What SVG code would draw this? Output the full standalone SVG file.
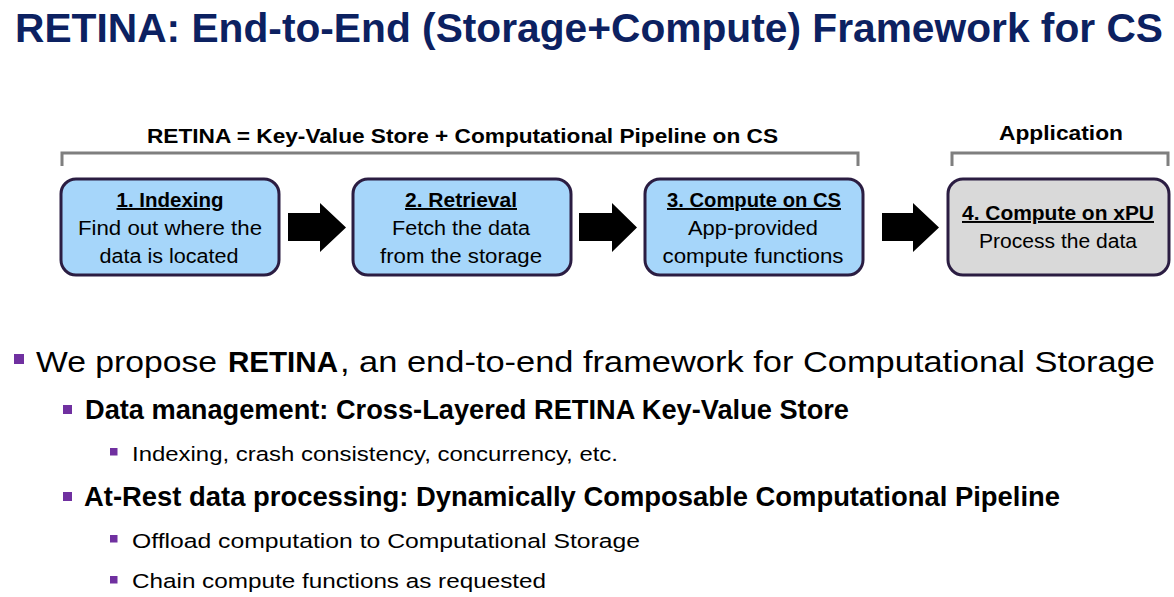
<svg xmlns="http://www.w3.org/2000/svg" width="1174" height="597" viewBox="0 0 1174 597">
  <defs>
    <style>
      text { font-family: "Liberation Sans", Arial, sans-serif; fill: #000; }
      .title { font-size: 40px; font-weight: bold; fill: #0c2161; }
      .group-label { font-size: 21px; font-weight: bold; }
      .bracket { fill: none; stroke: #7f7f7f; stroke-width: 3; }
      .step { stroke: #2b1d42; stroke-width: 3; }
      .step-cs { fill: #a6d6fa; }
      .step-app { fill: #d9d9d9; }
      .step-title { font-size: 19.5px; font-weight: bold; text-anchor: middle; text-decoration: underline; }
      .step-body { font-size: 19.5px; text-anchor: middle; }
      .flow { fill: #000; }
      .bullet { fill: #7030a0; }
      .l1 { font-size: 30px; }
      .l2 { font-size: 27px; font-weight: bold; }
      .l3 { font-size: 20.5px; }
      .b { font-weight: bold; }
    </style>
  </defs>

  <rect width="1174" height="597" fill="#ffffff"/>

  <!-- Heading -->
  <text class="title" x="15" y="42" textLength="1148" lengthAdjust="spacingAndGlyphs">RETINA: End-to-End (Storage+Compute) Framework for CS</text>

  <!-- Group brackets -->
  <g id="bracket-retina">
    <path class="bracket" d="M62,166 V153 H858 V166"/>
    <text class="group-label" x="147" y="143" textLength="631" lengthAdjust="spacingAndGlyphs">RETINA = Key-Value Store + Computational Pipeline on CS</text>
  </g>
  <g id="bracket-application">
    <path class="bracket" d="M952,166 V153 H1168 V166"/>
    <text class="group-label" x="999" y="140" textLength="124" lengthAdjust="spacingAndGlyphs">Application</text>
  </g>

  <!-- Pipeline steps -->
  <g id="step-indexing">
    <rect class="step step-cs" x="61" y="179" width="218" height="96" rx="15"/>
    <text class="step-title" x="170" y="207" textLength="107" lengthAdjust="spacingAndGlyphs">1. Indexing</text>
    <text class="step-body" x="170" y="235" textLength="184" lengthAdjust="spacingAndGlyphs">Find out where the</text>
    <text class="step-body" x="169" y="263" textLength="139" lengthAdjust="spacingAndGlyphs">data is located</text>
  </g>
  <g id="step-retrieval">
    <rect class="step step-cs" x="353" y="179" width="218" height="96" rx="15"/>
    <text class="step-title" x="461" y="207" textLength="112" lengthAdjust="spacingAndGlyphs">2. Retrieval</text>
    <text class="step-body" x="461" y="235" textLength="138" lengthAdjust="spacingAndGlyphs">Fetch the data</text>
    <text class="step-body" x="461" y="263" textLength="162" lengthAdjust="spacingAndGlyphs">from the storage</text>
  </g>
  <g id="step-compute-cs">
    <rect class="step step-cs" x="645" y="179" width="218" height="96" rx="15"/>
    <text class="step-title" x="754" y="207" textLength="174" lengthAdjust="spacingAndGlyphs">3. Compute on CS</text>
    <text class="step-body" x="753" y="235" textLength="130" lengthAdjust="spacingAndGlyphs">App-provided</text>
    <text class="step-body" x="753" y="263" textLength="181" lengthAdjust="spacingAndGlyphs">compute functions</text>
  </g>
  <g id="step-compute-xpu">
    <rect class="step step-app" x="948" y="179" width="221" height="96" rx="15"/>
    <text class="step-title" x="1058" y="220" textLength="192" lengthAdjust="spacingAndGlyphs">4. Compute on xPU</text>
    <text class="step-body" x="1058" y="248" textLength="158" lengthAdjust="spacingAndGlyphs">Process the data</text>
  </g>

  <!-- Block arrows between steps -->
  <g id="connectors">
    <polygon class="flow" points="288,213 320,213 320,203 346,227.5 320,252 320,241 288,241"/>
    <polygon class="flow" points="579,213 612,213 612,203 637,227.5 612,252 612,241 579,241"/>
    <polygon class="flow" points="882,213 913,213 913,203 939,227.5 913,252 913,241 882,241"/>
  </g>

  <!-- Bullet list -->
  <g id="bullets">
    <rect class="bullet" x="14" y="354" width="10" height="10"/>
    <text class="l1" y="372"><tspan x="36" textLength="181" lengthAdjust="spacingAndGlyphs">We propose</tspan><tspan class="b" x="228" textLength="110" lengthAdjust="spacingAndGlyphs">RETINA</tspan><tspan x="340" textLength="815" lengthAdjust="spacingAndGlyphs">, an end-to-end framework for Computational Storage</tspan></text>

    <rect class="bullet" x="63" y="405" width="9" height="9"/>
    <text class="l2" x="85" y="419" textLength="764" lengthAdjust="spacingAndGlyphs">Data management: Cross-Layered RETINA Key-Value Store</text>

    <rect class="bullet" x="110" y="448" width="7.5" height="7.5"/>
    <text class="l3" x="132" y="461" textLength="486" lengthAdjust="spacingAndGlyphs">Indexing, crash consistency, concurrency, etc.</text>

    <rect class="bullet" x="63" y="492" width="9" height="9"/>
    <text class="l2" x="84" y="506" textLength="976" lengthAdjust="spacingAndGlyphs">At-Rest data processing: Dynamically Composable Computational Pipeline</text>

    <rect class="bullet" x="110" y="535" width="7.5" height="7.5"/>
    <text class="l3" x="132" y="548" textLength="508" lengthAdjust="spacingAndGlyphs">Offload computation to Computational Storage</text>

    <rect class="bullet" x="110" y="576" width="7.5" height="7.5"/>
    <text class="l3" x="132" y="588" textLength="414" lengthAdjust="spacingAndGlyphs">Chain compute functions as requested</text>
  </g>
</svg>
